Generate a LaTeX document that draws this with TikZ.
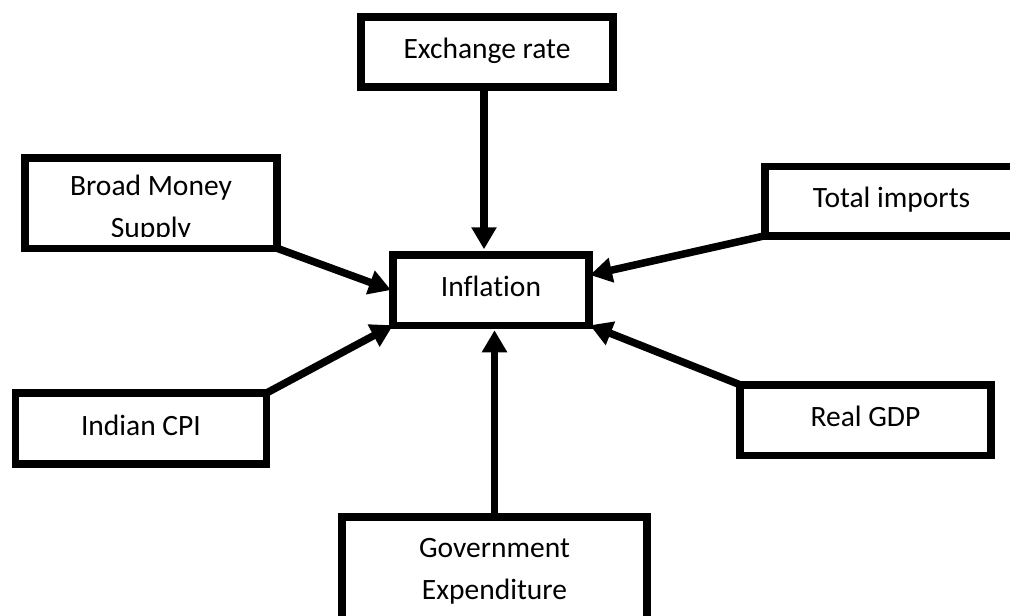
\documentclass[tikz,border=0pt]{standalone}
\usepackage{fontspec}
\setmainfont{Carlito}[Ligatures=CommonOff]
\usetikzlibrary{arrows.meta}
\begin{document}
\begin{tikzpicture}[x=1pt,y=-1pt,
  txt/.style={font=\fontsize{29.5}{42}\selectfont},
  box/.style={draw, line width=7.5pt, rectangle, inner sep=0pt, outer sep=0pt, txt},
  onel/.style={text height=20pt, text depth=7pt},
  arr/.style={line width=7.5pt, -{Triangle[length=22pt,width=24pt]}},
]
\useasboundingbox (0,0) rectangle (1010,616);
\clip (0,0) rectangle (1010,616);
\node[box, onel, minimum width=252pt, minimum height=70pt] (ex) at (487,52) {Exchange rate};
\node[box, minimum width=252pt, minimum height=90.5pt] (bm) at (151,203) {};
\begin{scope}
  \clip (25,158) rectangle (277,236);
  \node[txt, align=center, inner sep=0pt] (bmtext) at (151,209) {Broad Money\\Supply};
\end{scope}
\node[box, onel, minimum width=253pt, minimum height=69.5pt] (ti) at (891.5,201) {Total imports};
\node[box, onel, minimum width=196pt, minimum height=70.5pt] (infl) at (491,290) {Inflation};
\node[box, onel, minimum width=251pt, minimum height=71pt] (cpi) at (141,428.5) {Indian CPI};
\node[box, onel, minimum width=251pt, minimum height=70.5pt] (gdp) at (865.5,420) {Real GDP};
\node[box, align=center, minimum width=305pt, minimum height=109pt] (gov) at (494.5,571.5) {Government\\Expenditure};
\draw[arr] ([xshift=-3pt]ex.south) -- ([xshift=-7pt,yshift=5.5pt]infl.north);
\draw[arr] (bm.south east) -- ([xshift=-2pt]infl.west);
\draw[arr] (cpi.north east) -- (infl.south west);
\draw[arr] (ti.south west) -- ([xshift=1pt,yshift=15pt]infl.east);
\draw[arr] (gdp.north west) -- ([xshift=1pt]infl.south east);
\draw[arr] (gov.north) -- ([xshift=3.5pt,yshift=-5pt]infl.south);
\end{tikzpicture}
\end{document}
